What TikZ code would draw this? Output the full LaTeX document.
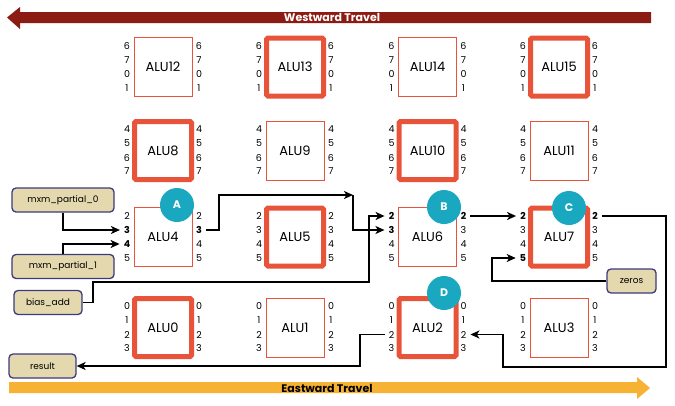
\documentclass[tikz,border=0pt]{standalone}
\usepackage{fontspec}
\setmainfont{Poppins}
\usetikzlibrary{arrows.meta}
\definecolor{westred}{HTML}{8C1C13}
\definecolor{eastorange}{HTML}{F7B133}
\definecolor{alured}{HTML}{E8543A}
\definecolor{badge}{HTML}{19A8C0}
\definecolor{tanfill}{HTML}{E4D9AE}
\definecolor{tanborder}{HTML}{3E3A7C}
\newcommand\aluunit[7]{%
  \node[#4] (#1) at (#2,#3) {#5};
  \foreach \t [count=\i] in {#6} {\node[port] (#1-L\i) at ({#2-36},{#3+(\i-2.5)*14}) {\t};}
  \foreach \t [count=\i] in {#7} {\node[port] (#1-R\i) at ({#2+36},{#3+(\i-2.5)*14}) {\t};}
}
\begin{document}
\begin{tikzpicture}[x=1pt,y=-1pt,
  alubox/.style={draw=alured, line width=1pt, fill=white, minimum width=58pt, minimum height=59pt, inner sep=0pt, font=\fontsize{13}{15}\selectfont},
  aluthick/.style={alubox, line width=5pt, minimum width=57pt, minimum height=58pt, rounded corners=1.5pt},
  port/.style={inner sep=4pt, font=\fontsize{9.5}{10}\selectfont},
  tag/.style={draw=tanborder, fill=tanfill, line width=1.3pt, rounded corners=4pt, minimum height=24pt, inner sep=0pt, font=\fontsize{9}{10}\selectfont},
  badgenode/.style={circle, fill=badge, minimum size=34pt, inner sep=0pt, text=white, font=\fontsize{11}{12}\selectfont\bfseries},
  conn/.style={draw=black, line width=1.8pt, -{Stealth[length=9pt,width=8pt,inset=2.5pt]}},
  barlabel/.style={font=\fontsize{11}{12}\selectfont\bfseries, inner sep=0pt}]
\useasboundingbox (0,0) rectangle (675,405);
\fill[white] (0,0) rectangle (675,405);
% travel bars
\fill[westred] (651,12) -- (20,12) -- (20,7) -- (7,17.5) -- (20,29) -- (20,23) -- (651,23) -- cycle;
\node[barlabel, text=white] (west) at (332,17.5) {Westward Travel};
\fill[eastorange] (9,382) -- (637,382) -- (637,377) -- (650,388) -- (637,399) -- (637,393) -- (9,393) -- cycle;
\node[barlabel, text=black] (east) at (327,388) {Eastward Travel};
% ALUs
\aluunit{alu12}{163}{67}{alubox}{ALU12}{6,7,0,1}{6,7,0,1}
\aluunit{alu13}{295}{67}{aluthick}{ALU13}{6,7,0,1}{6,7,0,1}
\aluunit{alu14}{427.5}{67}{alubox}{ALU14}{6,7,0,1}{6,7,0,1}
\aluunit{alu15}{559}{67}{aluthick}{ALU15}{6,7,0,1}{6,7,0,1}
\aluunit{alu8}{163}{150.5}{aluthick}{ALU8}{4,5,6,7}{4,5,6,7}
\aluunit{alu9}{295}{150.5}{alubox}{ALU9}{4,5,6,7}{4,5,6,7}
\aluunit{alu10}{427.5}{150.5}{aluthick}{ALU10}{4,5,6,7}{4,5,6,7}
\aluunit{alu11}{559}{150.5}{alubox}{ALU11}{4,5,6,7}{4,5,6,7}
\aluunit{alu4}{163}{237}{alubox}{ALU4}{2,\textbf{3},\textbf{4},5}{2,\textbf{3},4,5}
\aluunit{alu5}{295}{237}{aluthick}{ALU5}{2,3,4,5}{2,3,4,5}
\aluunit{alu6}{427.5}{237}{alubox}{ALU6}{\textbf{2},\textbf{3},4,5}{\textbf{2},3,4,5}
\aluunit{alu7}{559}{237}{aluthick}{ALU7}{\textbf{2},3,4,\textbf{5}}{\textbf{2},3,4,5}
\aluunit{alu0}{163}{327.5}{aluthick}{ALU0}{0,1,2,3}{0,1,2,3}
\aluunit{alu1}{295}{327.5}{alubox}{ALU1}{0,1,2,3}{0,1,2,3}
\aluunit{alu2}{427.5}{327.5}{aluthick}{ALU2}{0,1,2,3}{0,1,2,3}
\aluunit{alu3}{559}{327.5}{alubox}{ALU3}{0,1,2,3}{0,1,2,3}
% badges
\node[badgenode] (bA) at (177,205) {A};
\node[badgenode] (bB) at (444,207) {B};
\node[badgenode] (bC) at (569,208) {C};
\node[badgenode] (bD) at (444,293) {D};
% tags
\node[tag, minimum width=102pt] (m0) at (63,200) {mxm\_partial\_0};
\node[tag, minimum width=102pt] (m1) at (63,266.5) {mxm\_partial\_1};
\node[tag, minimum width=68pt] (bias) at (48,302.5) {bias\_add};
\node[tag, minimum width=67pt] (result) at (42.5,366) {result};
\node[tag, minimum width=49pt] (zeros) at (631.5,281) {zeros};
% junction points
\coordinate (j1) at (353,195);
\coordinate (b1) at (93,282);
\coordinate (b2) at (369,282);
\coordinate (c1) at (666,367);
\coordinate (c2) at (503,367);
\coordinate (z1) at (492,281);
\coordinate (r1) at (360,366);
% connectors
\draw[conn] (m0.south) |- (alu4-L2.west);
\draw[conn] (m1.north) |- (alu4-L3.west);
\draw[conn] (alu4-R2.east) -- ++(13,0) |- (j1);
\draw[conn] (j1) |- (alu6-L2.west);
\draw[conn] (bias.east) -| (b1) -- (b2) |- (alu6-L1.west);
\draw[conn] (alu6-R1.east) -- (alu7-L1.west);
\draw[conn] (alu7-R1.east) -| (c1) -- (c2) |- (alu2-R3.east);
\draw[conn] (zeros.west) -- (z1) |- (alu7-L4.west);
\draw[conn] (alu2-L3.west) -| (r1) -- (result.east);
\end{tikzpicture}
\end{document}
